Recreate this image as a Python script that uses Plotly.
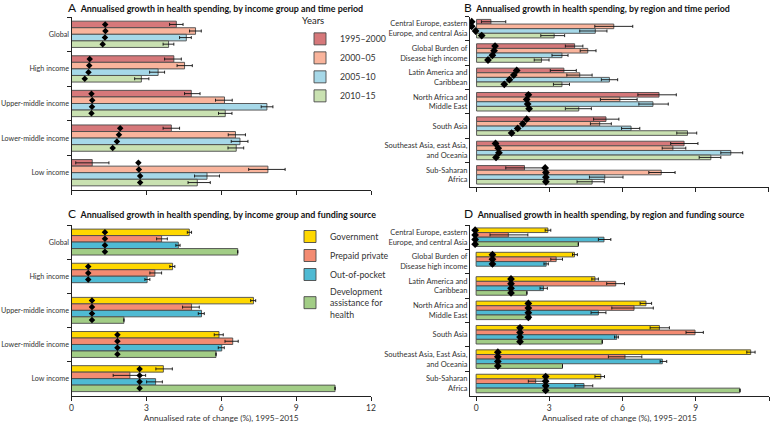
import plotly.graph_objects as go

# ---------------- DATA ----------------
income_groups = ["Global", "High income", "Upper-middle income", "Lower-middle income", "Low income"]
regions = ["Central Europe, eastern<br>Europe, and central Asia", "Global Burden of<br>Disease high income",
           "Latin America and<br>Caribbean", "North Africa and<br>Middle East", "South Asia",
           "Southeast Asia, east Asia,<br>and Oceania", "Sub-Saharan<br>Africa"]
regions_d = ["Central Europe, eastern<br>Europe, and central Asia", "Global Burden of<br>Disease high income",
             "Latin America and<br>Caribbean", "North Africa and<br>Middle East", "South Asia",
             "Southeast Asia, East Asia,<br>and Oceania", "Sub-Saharan<br>Africa"]
periods = ["1995–2000", "2000–05", "2005–10", "2010–15"]
sources = ["Government", "Prepaid private", "Out-of-pocket", "Development<br>assistance for<br>health"]

# Panel A: value, lower, upper, marker per period (rows follow income_groups)
a_val = {
    "1995–2000": [4.20, 4.10, 4.80, 4.00, 0.83],
    "2000–05":   [4.97, 4.53, 6.13, 6.57, 7.87],
    "2005–10":   [4.60, 3.47, 7.83, 6.75, 5.43],
    "2010–15":   [3.89, 2.80, 6.16, 6.60, 5.04],
}
a_lo = {
    "1995–2000": [3.93, 3.73, 4.53, 3.67, 0.17],
    "2000–05":   [4.73, 4.23, 5.77, 6.28, 7.10],
    "2005–10":   [4.33, 3.13, 7.60, 6.40, 4.93],
    "2010–15":   [3.67, 2.53, 5.89, 6.27, 4.67],
}
a_hi = {
    "1995–2000": [4.47, 4.40, 5.15, 4.33, 1.50],
    "2000–05":   [5.20, 4.84, 6.44, 6.97, 8.56],
    "2005–10":   [4.80, 3.73, 8.07, 7.07, 5.93],
    "2010–15":   [4.10, 3.10, 6.43, 6.90, 5.56],
}
a_dot = {
    "1995–2000": [1.35, 0.73, 0.80, 1.95, 2.68],
    "2000–05":   [1.36, 0.71, 0.83, 1.90, 2.70],
    "2005–10":   [1.34, 0.68, 0.82, 1.82, 2.75],
    "2010–15":   [1.25, 0.53, 0.80, 1.65, 2.75],
}

# Panel B (rows follow regions)
b_val = {
    "1995–2000": [0.59, 4.03, 3.59, 7.50, 5.32, 8.53, 1.97],
    "2000–05":   [5.64, 4.57, 4.24, 5.89, 5.06, 8.07, 7.59],
    "2005–10":   [4.88, 3.51, 5.46, 7.25, 6.35, 10.45, 5.27],
    "2010–15":   [3.19, 2.67, 3.51, 4.20, 8.67, 9.63, 4.75],
}
b_lo = {
    "1995–2000": [0.20, 3.65, 3.03, 6.63, 4.81, 7.98, 1.20],
    "2000–05":   [4.86, 4.26, 3.71, 5.09, 4.68, 7.63, 7.08],
    "2005–10":   [4.24, 3.10, 5.13, 6.67, 5.96, 10.04, 4.64],
    "2010–15":   [2.64, 2.37, 3.16, 3.65, 8.23, 9.15, 4.13],
}
b_hi = {
    "1995–2000": [1.20, 4.37, 4.10, 8.21, 5.85, 9.10, 2.75],
    "2000–05":   [6.42, 4.91, 4.75, 6.60, 5.54, 8.60, 8.16],
    "2005–10":   [5.36, 3.76, 5.80, 7.88, 6.71, 10.94, 6.02],
    "2010–15":   [3.62, 2.98, 3.82, 4.72, 9.05, 10.04, 5.25],
}
b_dot = {
    "1995–2000": [-0.20, 0.76, 1.65, 2.13, 2.06, 0.78, 2.82],
    "2000–05":   [-0.20, 0.72, 1.53, 2.06, 1.90, 0.89, 2.85],
    "2005–10":   [-0.04, 0.65, 1.35, 2.10, 1.69, 0.92, 2.85],
    "2010–15":   [0.21, 0.47, 1.14, 2.16, 1.44, 0.80, 2.85],
}

# Panel C (rows follow income_groups); None = no value
c_val = {
    "Government":      [4.72, 4.05, 7.29, 5.91, 3.68],
    "Prepaid private": [3.61, 3.34, 4.81, 6.46, 2.34],
    "Out-of-pocket":   [4.28, 3.03, 5.21, 6.02, 3.37],
    "DAH":             [6.66, None, 2.10, 5.79, 10.56],
}
c_lo = {
    "Government":      [4.64, 3.94, 7.18, 5.72, 3.38],
    "Prepaid private": [3.41, 3.14, 4.45, 6.15, 1.67],
    "Out-of-pocket":   [4.18, 2.94, 5.08, 5.88, 3.01],
    "DAH":             [None, None, None, None, None],
}
c_hi = {
    "Government":      [4.81, 4.14, 7.38, 6.08, 4.04],
    "Prepaid private": [3.84, 3.61, 5.12, 6.68, 2.97],
    "Out-of-pocket":   [4.35, 3.14, 5.32, 6.12, 3.64],
    "DAH":             [None, None, None, None, None],
}
c_dot = {
    "Government":      [1.34, 0.67, 0.82, 1.84, 2.73],
    "Prepaid private": [1.34, 0.67, 0.82, 1.84, 2.73],
    "Out-of-pocket":   [1.34, 0.67, 0.82, 1.84, 2.73],
    "DAH":             [1.34, None, 0.82, 1.84, 2.73],
}

# Panel D (rows follow regions_d)
d_val = {
    "Government":      [2.94, 4.03, 4.87, 6.96, 7.51, 11.25, 5.11],
    "Prepaid private": [1.32, 3.28, 5.72, 6.47, 8.97, 6.10, 2.44],
    "Out-of-pocket":   [5.24, 2.87, 2.76, 5.01, 5.76, 7.63, 4.42],
    "DAH":             [4.19, None, 2.08, 2.22, 5.17, 3.54, 10.81],
}
d_lo = {
    "Government":      [2.83, 3.95, 4.74, 6.72, 7.13, 11.09, 4.87],
    "Prepaid private": [0.57, 3.06, 5.35, 5.56, 8.60, 5.42, 2.14],
    "Out-of-pocket":   [5.01, 2.78, 2.62, 4.71, 5.67, 7.54, 4.05],
    "DAH":             [None, None, None, None, None, None, None],
}
d_hi = {
    "Government":      [3.06, 4.15, 5.01, 7.19, 7.92, 11.43, 5.26],
    "Prepaid private": [2.12, 3.54, 6.08, 7.26, 9.31, 6.79, 2.83],
    "Out-of-pocket":   [5.52, 2.96, 2.92, 5.32, 5.83, 7.81, 4.78],
    "DAH":             [None, None, None, None, None, None, None],
}
d_dot = {
    "Government":      [-0.04, 0.67, 1.43, 2.14, 1.80, 0.89, 2.85],
    "Prepaid private": [-0.04, 0.67, 1.43, 2.14, 1.80, 0.89, 2.85],
    "Out-of-pocket":   [-0.04, 0.67, 1.43, 2.14, 1.80, 0.89, 2.85],
    "DAH":             [-0.04, None, 1.43, 2.14, 1.80, 0.89, 2.85],
}

x_ticks = [0, 3, 6, 9, 12]
period_colors = ["#d6787a", "#f9b49c", "#a6d8e8", "#c9e1b1"]
source_colors = ["#ffd800", "#f38b72", "#4fbad3", "#a2cd86"]
source_keys = ["Government", "Prepaid private", "Out-of-pocket", "DAH"]

FONT = "Lato"
fig = go.Figure()


def err(vals, lo, hi):
    plus = [(h - v) if (h is not None and v is not None) else None for v, h in zip(vals, hi)]
    minus = [(v - l) if (l is not None and v is not None) else None for v, l in zip(vals, lo)]
    return plus, minus


def add_panel(cats, names, keys, colors, val, lo, hi, dot, xa, ya, legend, showleg, dsize):
    for i, (nm, k) in enumerate(zip(names, keys)):
        plus, minus = err(val[k], lo[k], hi[k])
        fig.add_trace(go.Bar(
            y=cats, x=val[k], orientation="h", name=nm, xaxis=xa, yaxis=ya,
            marker=dict(color=colors[i], line=dict(color="#4a4a4a", width=0.9)),
            error_x=dict(type="data", symmetric=False, array=plus, arrayminus=minus,
                         color="#111111", thickness=0.9, width=1.5),
            offsetgroup=str(i), legend=legend, showlegend=showleg,
        ))
    for i, (nm, k) in enumerate(zip(names, keys)):
        fig.add_trace(go.Scatter(
            y=cats, x=dot[k], mode="markers", xaxis=xa, yaxis=ya, offsetgroup=str(i),
            orientation="h",
            marker=dict(symbol="diamond", size=dsize, color="#000000"),
            showlegend=False, hoverinfo="skip",
        ))


add_panel(income_groups, periods, periods, period_colors, a_val, a_lo, a_hi, a_dot, "x", "y", "legend", True, 5)
add_panel(regions, periods, periods, period_colors, b_val, b_lo, b_hi, b_dot, "x2", "y2", "legend", False, 6)
add_panel(income_groups, sources, source_keys, source_colors, c_val, c_lo, c_hi, c_dot, "x3", "y3", "legend2", True, 5)
add_panel(regions_d, sources, source_keys, source_colors, d_val, d_lo, d_hi, d_dot, "x4", "y4", "legend2", False, 6)

W, H = 773, 423


def dx(a, b):
    return [a / W, b / W]


def dy(top, bottom):
    return [1 - bottom / H, 1 - top / H]


axis_common = dict(showline=True, linecolor="#222222", linewidth=1, ticks="outside",
                   tickcolor="#222222", tickwidth=1, showgrid=False, zeroline=False,
                   automargin=False,
                   tickfont=dict(family=FONT, size=7.5, color="#333333"))
xcommon = dict(axis_common, tickvals=x_ticks, ticklen=4,
               tickfont=dict(family=FONT, size=8.5, color="#333333"))
ycommon = dict(axis_common, type="category", autorange="reversed", tickson="boundaries", ticklen=4)
yinc = dict(ycommon, tickfont=dict(family=FONT, size=7.2, color="#333333"))

xtitle = dict(text="Annualised rate of change (%), 1995–2015", font=dict(family=FONT, size=8.3, color="#333333"),
              standoff=1)

fig.update_layout(
    width=W, height=H, margin=dict(l=0, r=0, t=0, b=0, autoexpand=False),
    paper_bgcolor="white", plot_bgcolor="white",
    barmode="group", bargap=0.24, bargroupgap=0.0,
    scattermode="group", scattergap=0.24,
    font=dict(family=FONT, size=8.5, color="#333333"),
    xaxis=dict(xcommon, domain=dx(71.5, 371), range=[0, 12], anchor="y", showticklabels=False),
    yaxis=dict(yinc, domain=dy(17, 190), anchor="x"),
    xaxis2=dict(xcommon, domain=dx(470, 768.5), range=[-0.27, 12], anchor="y2", showticklabels=False),
    yaxis2=dict(ycommon, domain=dy(16.5, 187), anchor="x2"),
    xaxis3=dict(xcommon, domain=dx(71.5, 371), range=[0, 12], anchor="y3", title=xtitle),
    yaxis3=dict(yinc, domain=dy(225, 395.7), anchor="x3"),
    xaxis4=dict(xcommon, domain=dx(470, 769), range=[-0.25, 12], anchor="y4", title=xtitle),
    yaxis4=dict(ycommon, domain=dy(225, 395.7), anchor="x4"),
    legend=dict(title=dict(text="Years", font=dict(family=FONT, size=9.5, color="#222222")),
                x=300 / W, y=1 - 12 / H, xanchor="left", yanchor="top",
                font=dict(family=FONT, size=8.8, color="#333333"), tracegroupgap=0,
                bgcolor="rgba(0,0,0,0)", itemwidth=30),
    legend2=dict(x=290 / W, y=1 - 222 / H, xanchor="left", yanchor="top",
                 font=dict(family=FONT, size=8.8, color="#333333"), tracegroupgap=0,
                 bgcolor="rgba(0,0,0,0)", itemwidth=30),
)

titles = [
    (66, 7, "A", "Annualised growth in health spending, by income group and time period"),
    (462, 7, "B", "Annualised growth in health spending, by region and time period"),
    (66, 214, "C", "Annualised growth in health spending, by income group and funding source"),
    (462, 214, "D", "Annualised growth in health spending, by region and funding source"),
]
for x0, y0, letter, txt in titles:
    fig.add_annotation(
        x=x0 / W, y=1 - y0 / H, xref="paper", yref="paper", xanchor="left", yanchor="middle",
        showarrow=False,
        text=f"<span style='font-size:12px'>{letter}</span>&nbsp;&nbsp;<b>{txt}</b>",
        font=dict(family=FONT, size=8.9, color="#111111"),
    )

fig.write_html("out.html", config={"displayModeBar": False},
               post_script="document.body.style.margin='0px';")
